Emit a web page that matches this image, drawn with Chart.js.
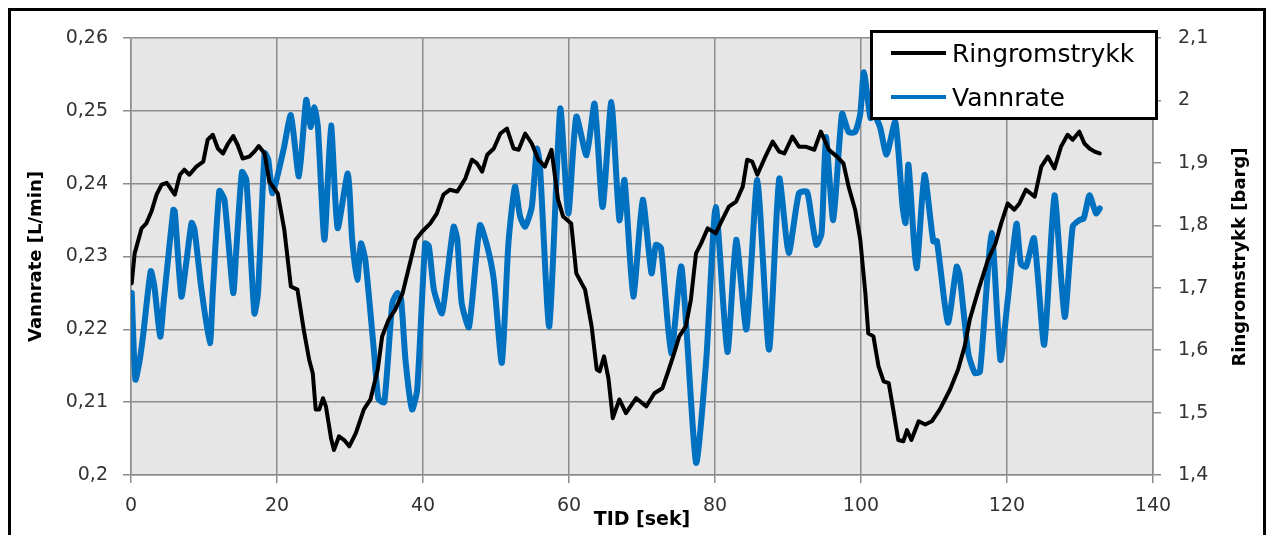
<!DOCTYPE html>
<html>
<head>
<meta charset="utf-8">
<script src="https://cdn.jsdelivr.net/npm/chart.js"></script>
<style>
  html, body { margin: 0; padding: 0; background: #fff; }
  canvas { display: block; }
</style>
</head>
<body>
<canvas id="chart" width="1268" height="535"></canvas>
<script>
// Ringromstrykk [barg] (right axis)
const timeRing = [0.1, 0.5, 1.45, 2.1, 2.8, 3.5, 4.2, 4.9, 6.0, 6.7, 7.3, 8.0, 8.95, 9.9, 10.5, 11.2, 11.9, 12.6, 13.3, 14.0,
  14.6, 15.3, 16.2, 16.9, 17.5, 18.3, 18.95, 20.1, 21.0, 21.9, 22.8, 23.7, 24.4, 24.9, 25.3, 25.8, 26.3, 26.7, 27.4, 27.8,
  28.5, 29.2, 29.9, 30.8, 31.9, 32.8, 33.8, 34.4, 35.3, 36.2, 37.2, 38.1, 39.0, 39.9, 41.0, 41.9, 42.8, 43.7, 44.7, 45.8,
  46.7, 47.4, 48.1, 48.8, 49.7, 50.6, 51.5, 52.4, 53.1, 54.0, 54.9, 55.8, 56.7, 57.6, 58.5, 59.2, 60.3, 61.0, 62.2, 63.1,
  63.8, 64.2, 64.8, 65.4, 66.0, 66.9, 67.8, 69.2, 70.6, 71.7, 72.8, 73.5, 74.4, 75.1, 76.0, 76.7, 77.4, 78.1, 79.0, 80.1,
  81.0, 81.9, 82.9, 83.8, 84.4, 85.1, 85.8, 86.9, 87.9, 88.8, 89.5, 90.6, 91.5, 92.4, 93.6, 94.5, 95.6, 96.7, 97.6, 98.3,
  99.2, 99.9, 100.6, 101.0, 101.7, 102.4, 103.1, 103.8, 104.5, 105.1, 105.8, 106.3, 106.9, 107.9, 108.8, 109.7, 110.8, 112.2, 113.3, 114.2,
  114.9, 116.1, 117.4, 118.4, 119.2, 120.1, 121.0, 121.7, 122.6, 123.8, 124.7, 125.6, 126.5, 127.4, 128.3, 129.0, 129.9, 130.6, 131.3, 132.0, 132.7];
const ringromstrykk = [1.707, 1.755, 1.795, 1.803, 1.822, 1.849, 1.865, 1.868, 1.849, 1.881, 1.889, 1.881, 1.894, 1.902, 1.937, 1.945, 1.923, 1.915, 1.931, 1.943,
  1.929, 1.907, 1.910, 1.918, 1.927, 1.915, 1.870, 1.851, 1.793, 1.702, 1.697, 1.630, 1.585, 1.563, 1.505, 1.505, 1.523, 1.510, 1.459, 1.440,
  1.462, 1.456, 1.446, 1.467, 1.505, 1.521, 1.569, 1.622, 1.649, 1.665, 1.691, 1.734, 1.777, 1.790, 1.803, 1.819, 1.849, 1.857, 1.854, 1.875,
  1.905, 1.899, 1.886, 1.913, 1.923, 1.947, 1.955, 1.923, 1.921, 1.947, 1.931, 1.905, 1.894, 1.921, 1.841, 1.814, 1.803, 1.723, 1.697, 1.638,
  1.569, 1.566, 1.590, 1.555, 1.491, 1.521, 1.499, 1.523, 1.510, 1.531, 1.539, 1.563, 1.595, 1.622, 1.638, 1.681, 1.755, 1.771, 1.795, 1.787,
  1.809, 1.830, 1.838, 1.862, 1.905, 1.902, 1.881, 1.910, 1.934, 1.918, 1.915, 1.942, 1.926, 1.926, 1.921, 1.950, 1.921, 1.910, 1.899, 1.862,
  1.825, 1.777, 1.691, 1.627, 1.622, 1.574, 1.550, 1.547, 1.499, 1.456, 1.454, 1.472, 1.456, 1.486, 1.481, 1.486, 1.505, 1.537, 1.569, 1.606,
  1.649, 1.697, 1.745, 1.770, 1.803, 1.835, 1.825, 1.835, 1.857, 1.846, 1.894, 1.910, 1.891, 1.926, 1.945, 1.937, 1.950, 1.931, 1.923, 1.918, 1.915];

// Vannrate [L/min] (left axis)
const timeVann = [0.1, 0.6, 1.2, 1.7, 2.7, 3.2, 4.0, 4.5, 5.8, 6.0, 6.9, 7.5, 8.3, 8.7, 9.6, 10.8, 11.2, 12.1, 12.8, 14.0,
  14.4, 15.2, 15.8, 16.9, 17.4, 18.3, 18.8, 19.4, 20.9, 21.9, 23.0, 24.0, 24.6, 25.1, 25.6, 26.5, 27.4, 28.3, 29.7, 30.3,
  31.0, 31.5, 32.1, 33.3, 33.9, 34.7, 35.8, 36.5, 37.0, 37.6, 38.5, 39.2, 40.3, 40.8, 41.5, 42.6, 43.3, 44.2, 44.7, 45.3,
  46.3, 47.8, 48.8, 49.7, 50.8, 51.7, 52.6, 53.3, 54.0, 54.9, 55.6, 56.0, 57.3, 58.8, 59.9, 61.0, 62.4, 63.5, 64.6, 65.8,
  66.9, 67.6, 68.8, 70.1, 71.3, 71.9, 72.6, 74.0, 75.4, 77.4, 78.8, 80.1, 81.7, 82.9, 84.3, 85.8, 87.4, 88.8, 90.1, 91.5,
  92.6, 93.2, 93.9, 94.6, 95.2, 96.2, 97.4, 98.3, 99.2, 99.9, 100.4, 101.3, 101.8, 102.6, 103.5, 104.7, 105.7, 106.1, 106.5, 107.6,
  108.7, 109.9, 110.4, 111.9, 113.1, 113.5, 114.7, 115.6, 116.3, 117.9, 119.1, 120.1, 121.3, 121.9, 122.6, 123.7, 125.1, 126.5, 127.9, 129.0,
  129.9, 130.5, 131.3, 132.2, 132.7];
const vannrate = [0.2250, 0.2131, 0.2158, 0.2195, 0.2280, 0.2259, 0.2190, 0.2240, 0.2364, 0.2362, 0.2245, 0.2286, 0.2346, 0.2337, 0.2259, 0.2181, 0.2250, 0.2390, 0.2378, 0.2250,
  0.2305, 0.2416, 0.2405, 0.2222, 0.2250, 0.2442, 0.2433, 0.2387, 0.2447, 0.2494, 0.2410, 0.2515, 0.2478, 0.2505, 0.2478, 0.2323, 0.2480, 0.2339, 0.2414, 0.2323,
  0.2268, 0.2318, 0.2295, 0.2168, 0.2104, 0.2100, 0.2236, 0.2250, 0.2241, 0.2158, 0.2090, 0.2117, 0.2318, 0.2314, 0.2254, 0.2222, 0.2273, 0.2341, 0.2323, 0.2236,
  0.2203, 0.2343, 0.2314, 0.2268, 0.2154, 0.2318, 0.2396, 0.2355, 0.2341, 0.2368, 0.2448, 0.2428, 0.2204, 0.2503, 0.2359, 0.2492, 0.2439, 0.2510, 0.2368, 0.2512,
  0.2350, 0.2405, 0.2245, 0.2378, 0.2277, 0.2316, 0.2312, 0.2167, 0.2286, 0.2017, 0.2158, 0.2368, 0.2169, 0.2323, 0.2200, 0.2405, 0.2172, 0.2407, 0.2305, 0.2387,
  0.2389, 0.2355, 0.2316, 0.2332, 0.2464, 0.2350, 0.2496, 0.2471, 0.2471, 0.2496, 0.2553, 0.2490, 0.2495, 0.2478, 0.2440, 0.2485, 0.2368, 0.2346, 0.2426, 0.2284,
  0.2412, 0.2321, 0.2321, 0.2209, 0.2286, 0.2275, 0.2167, 0.2140, 0.2142, 0.2332, 0.2158, 0.2240, 0.2345, 0.2290, 0.2286, 0.2325, 0.2179, 0.2384, 0.2217, 0.2341,
  0.2350, 0.2352, 0.2384, 0.2359, 0.2366];

const xTicks = [0, 20, 40, 60, 80, 100, 120, 140];
const leftTicks = [0.2, 0.21, 0.22, 0.23, 0.24, 0.25, 0.26];
const rightTicks = [1.4, 1.5, 1.6, 1.7, 1.8, 1.9, 2, 2.1];

const FONT = "'DejaVu Sans', sans-serif";
const gridColor = '#8c8c8c';
Chart.defaults.font.family = FONT;

function commaLabel(v) {
  return String(Math.round(v * 1000) / 1000).replace('.', ',');
}

const framePlugin = {
  id: 'frame',
  beforeDraw(chart) {
    const ctx = chart.ctx;
    const a = chart.chartArea;
    ctx.save();
    ctx.fillStyle = '#fff';
    ctx.fillRect(0, 0, chart.width, chart.height);
    ctx.strokeStyle = '#000';
    ctx.lineWidth = 3;
    ctx.strokeRect(9.5, 9.5, 1255, 600);
    ctx.fillStyle = '#e6e6e6';
    ctx.fillRect(a.left, a.top, a.right - a.left, a.bottom - a.top);
    ctx.restore();
  },
  afterDraw(chart) {
    const ctx = chart.ctx;
    ctx.save();
    // right axis title, reads bottom to top
    ctx.translate(1240, 257);
    ctx.rotate(-Math.PI / 2);
    ctx.font = "bold 18px " + FONT;
    ctx.fillStyle = '#000';
    ctx.textAlign = 'center';
    ctx.textBaseline = 'middle';
    ctx.fillText('Ringromstrykk [barg]', 0, 0);
    ctx.restore();

    // legend box
    ctx.save();
    ctx.fillStyle = '#fff';
    ctx.fillRect(870, 30, 288, 90);
    ctx.strokeStyle = '#000';
    ctx.lineWidth = 3;
    ctx.strokeRect(871.5, 31.5, 285, 87);
    const rows = [53, 97];
    chart.data.datasets.forEach(function (ds, i) {
      ctx.strokeStyle = ds.borderColor;
      ctx.lineWidth = 4;
      ctx.beginPath();
      ctx.moveTo(891, rows[i]);
      ctx.lineTo(946, rows[i]);
      ctx.stroke();
      ctx.fillStyle = '#000';
      ctx.font = "25px " + FONT;
      ctx.textBaseline = 'alphabetic';
      ctx.fillText(ds.label, 952, rows[i] + 9);
    });
    ctx.restore();
  }
};

const chart = new Chart(document.getElementById('chart'), {
  type: 'line',
  data: {
    datasets: [
      {
        label: 'Ringromstrykk',
        data: timeRing.map((t, i) => ({ x: t, y: ringromstrykk[i] })),
        yAxisID: 'y2',
        borderColor: '#000000',
        borderWidth: 4,
        pointRadius: 0,
        tension: 0,
        borderJoinStyle: 'round',
        borderCapStyle: 'round'
      },
      {
        label: 'Vannrate',
        data: timeVann.map((t, i) => ({ x: t, y: vannrate[i] })),
        yAxisID: 'y',
        borderColor: '#0070c0',
        borderWidth: 6,
        pointRadius: 0,
        tension: 0.2,
        borderJoinStyle: 'round',
        borderCapStyle: 'round'
      }
    ]
  },
  options: {
    responsive: false,
    animation: false,
    layout: { padding: { top: 38, left: 0, right: 0, bottom: 0 } },
    plugins: {
      legend: { display: false },
      tooltip: { enabled: false }
    },
    scales: {
      x: {
        type: 'linear',
        position: 'bottom',
        min: 0,
        max: 140,
        afterBuildTicks: s => { s.ticks = xTicks.map(v => ({ value: v })); },
        afterFit: s => { s.height = 60; },
        ticks: { font: { size: 19 }, color: '#333', padding: 12, maxRotation: 0 },
        grid: { color: gridColor, lineWidth: 1.5, tickLength: 8 },
        border: { color: gridColor, width: 1.5 },
        title: {
          display: true,
          text: 'TID [sek]',
          color: '#000',
          font: { size: 19, weight: 'bold' },
          padding: { top: 0, bottom: 4 }
        }
      },
      y: {
        type: 'linear',
        position: 'left',
        min: 0.2,
        max: 0.26,
        afterBuildTicks: s => { s.ticks = leftTicks.map(v => ({ value: v })); },
        afterFit: s => { s.width = 131; },
        ticks: { font: { size: 19 }, color: '#333', padding: 15, callback: commaLabel },
        grid: { color: gridColor, lineWidth: 1.5, tickLength: 8 },
        border: { color: gridColor, width: 1.5 },
        title: {
          display: true,
          text: 'Vannrate [L/min]',
          color: '#000',
          font: { size: 18, weight: 'bold' },
          padding: { top: 26, bottom: 0 }
        }
      },
      y2: {
        type: 'linear',
        position: 'right',
        min: 1.4,
        max: 2.1,
        afterBuildTicks: s => { s.ticks = rightTicks.map(v => ({ value: v })); },
        afterFit: s => { s.width = 115; },
        ticks: { font: { size: 19 }, color: '#333', padding: 17, callback: commaLabel },
        grid: { drawOnChartArea: false, color: gridColor, lineWidth: 1.5, tickLength: 8 },
        border: { color: gridColor, width: 1.5 }
      }
    }
  },
  plugins: [framePlugin]
});
</script>
</body>
</html>
